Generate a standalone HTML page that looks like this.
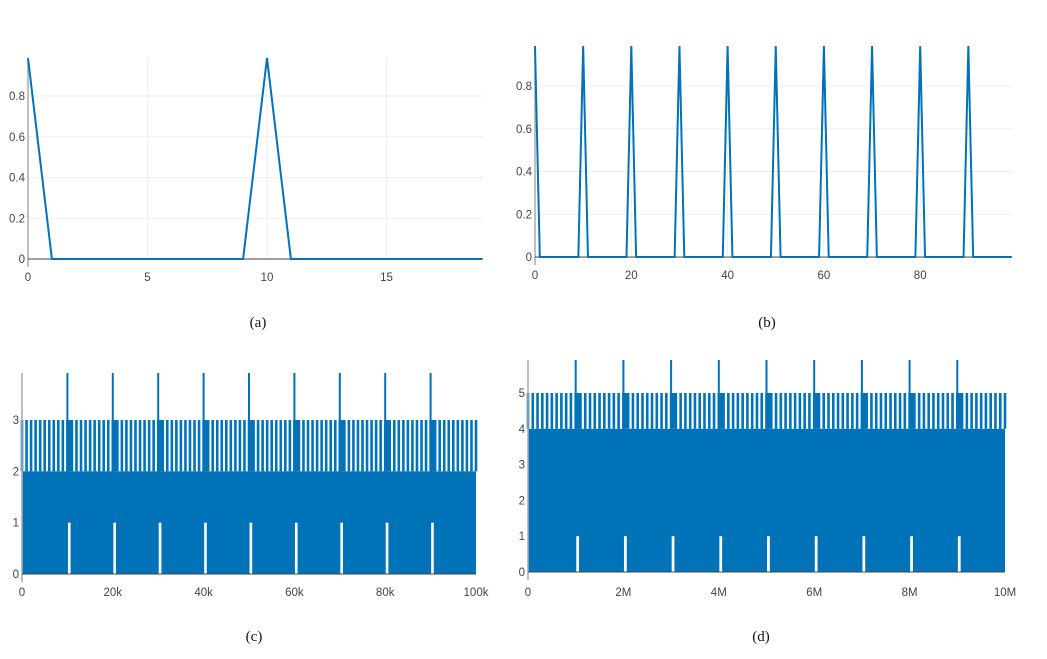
<!DOCTYPE html>
<html><head><meta charset="utf-8">
<style>
body{margin:0;background:#fff;width:1047px;height:659px;overflow:hidden}
svg{display:block}
.tk{font-family:"Liberation Sans",sans-serif;font-size:11.5px;fill:#444}
.cap{font-family:"Liberation Serif",serif;font-size:15px;fill:#111}
</style></head><body>
<svg id="s" width="1047" height="659"></svg>
<script>
// Panel (a) data
const aX = [0,1,2,3,4,5,6,7,8,9,10,11,12,13,14,15,16,17,18,19];
const aY = [1,0,0,0,0,0,0,0,0,0,1,0,0,0,0,0,0,0,0,0];
const aXTicks = [0,5,10,15];
const aYTicks = [0,0.2,0.4,0.6,0.8];
// Panel (b) data
const bPeaks = [0,10,20,30,40,50,60,70,80,90];
const bPeakVals = [1,1,1,1,1,1,1,1,1,1];
const bXTicks = [0,20,40,60,80];
const bYTicks = [0,0.2,0.4,0.6,0.8];
// Panel (c) data
const cPeaks = [10000,20000,30000,40000,50000,60000,70000,80000,90000];
const cLevels = [2,3,4];
const cXTicks = [0,20000,40000,60000,80000,100000];
const cXLabels = ["0","20k","40k","60k","80k","100k"];
const cYTicks = [0,1,2,3];
// Panel (d) data
const dPeaks = [1e6,2e6,3e6,4e6,5e6,6e6,7e6,8e6,9e6];
const dLevels = [4,5,6];
const dXTicks = [0,2e6,4e6,6e6,8e6,1e7];
const dXLabels = ["0","2M","4M","6M","8M","10M"];
const dYTicks = [0,1,2,3,4,5];

const NS="http://www.w3.org/2000/svg";
const svg=document.getElementById('s');
const BLUE="#0072b8";
function mk(tag,attrs,parent){const e=document.createElementNS(NS,tag);for(const k in attrs)e.setAttribute(k,attrs[k]);(parent||svg).appendChild(e);return e;}
function lin(d0,d1,r0,r1){return v=>r0+(v-d0)*(r1-r0)/(d1-d0);}

function axes(g,P,xTicks,xLabels,yTicks,grid){
  if(grid){
    xTicks.forEach(t=>{const e=mk('line',{x1:P.x(t),x2:P.x(t),y1:P.top,y2:P.y(0),stroke:'#eee'},g);
      });
    yTicks.forEach(t=>{const e=mk('line',{x1:P.x0,x2:P.right,y1:P.y(t),y2:P.y(t),stroke:'#eee'},g);
      });
  }
  xTicks.forEach((t,i)=>{const e=mk('text',{x:P.x(t),y:P.y(0)+P.lab,'text-anchor':'middle',class:'tk'},g);e.textContent=xLabels?xLabels[i]:String(t);
    });
  yTicks.forEach(t=>{const e=mk('text',{x:P.x0-3,y:P.y(t)+4,'text-anchor':'end',class:'tk'},g);e.textContent=String(t);
    });
}
function axisLines(g,P){
  let e=mk('line',{x1:P.x0,x2:P.x0,y1:P.top,y2:P.y(0)+8,stroke:'#aaa','stroke-width':1.5},g);
  
  e=mk('line',{x1:P.x0,x2:P.right,y1:P.y(0),y2:P.y(0),stroke:'#444','stroke-width':1},g);
  
}
function caption(txt,x,y,name){const e=mk('text',{x:x,y:y,'text-anchor':'middle',class:'cap'});e.textContent=txt;
  }

(function(){
  const g=mk('g',{});
  const P={x:lin(0,5,28,147.5),y:lin(0,0.8,259,96),x0:28,right:483,top:58,lab:22};
  axes(g,P,aXTicks,null,aYTicks,true);
  const pts=aX.map((x,i)=>P.x(x)+','+Math.max(P.top,P.y(aY[i]))).join(' ');
  axisLines(g,P);
  const l=mk('polyline',{points:pts,fill:'none',stroke:BLUE,'stroke-width':2},g);
  
})();

(function(){
  const g=mk('g',{});
  const P={x:lin(0,20,535,631.3),y:lin(0,0.8,257,86),x0:535,right:1012,top:46,lab:22};
  axes(g,P,bXTicks,null,bYTicks,true);
  axisLines(g,P);
  let pts=[];
  bPeaks.forEach((p,i)=>{
    if(p>0) pts.push([p-1,0]);
    pts.push([p,bPeakVals[i]]);
    pts.push([p+1,0]);
  });
  pts.push([99,0]);
  const s=pts.map(q=>P.x(q[0])+','+Math.max(P.top,P.y(q[1]))).join(' ');
  const l=mk('polyline',{points:s,fill:'none',stroke:BLUE,'stroke-width':2},g);
  
})();

function dense(name,peaks,levels,xTicks,xLabels,yTicks,P,xmax){
  const g=mk('g',{});
  axes(g,P,xTicks,xLabels,yTicks,false);
  const step=(peaks[1]-peaks[0])/10;
  const x1=P.x(xmax);
  let r=mk('rect',{x:P.x0,y:P.y(levels[0]),width:x1-P.x0,height:P.y(0)-P.y(levels[0]),fill:BLUE},g);
  
  for(let v=0;v<=xmax;v+=step){
    const b=mk('rect',{x:P.x(v)-1.3,y:P.y(levels[1]),width:2.6,height:P.y(levels[0])-P.y(levels[1]),fill:BLUE},g);
    
  }
  peaks.forEach(p=>{
    const w=mk('rect',{x:P.x(p)-1,y:P.y(levels[1]),width:P.x(p+step*0.8)-P.x(p)+1,height:P.y(levels[0])-P.y(levels[1]),fill:BLUE},g);
    
    const k=mk('rect',{x:P.x(p)-1,y:P.top,width:2,height:P.y(levels[1])-P.top,fill:BLUE},g);
    
    const gap=mk('rect',{x:P.x(p+step*0.12),y:P.y(1),width:P.x(p+step*0.7)-P.x(p+step*0.12),height:P.y(0)-P.y(1),fill:'#fff'},g);
    
  });
  axisLines(g,P);
}
dense('panel-c',cPeaks,cLevels,cXTicks,cXLabels,cYTicks,
  {x:lin(0,100000,22,476),y:lin(0,3,574,420),x0:22,right:476,top:373,lab:22},100000);
dense('panel-d',dPeaks,dLevels,dXTicks,dXLabels,dYTicks,
  {x:lin(0,1e7,528,1005),y:lin(0,5,572,393),x0:528,right:1005,top:360,lab:24},1e7);

caption('(a)',258,327,'caption-a');
caption('(b)',767,327,'caption-b');
caption('(c)',254,641,'caption-c');
caption('(d)',761,641,'caption-d');
</script>
</body></html>
